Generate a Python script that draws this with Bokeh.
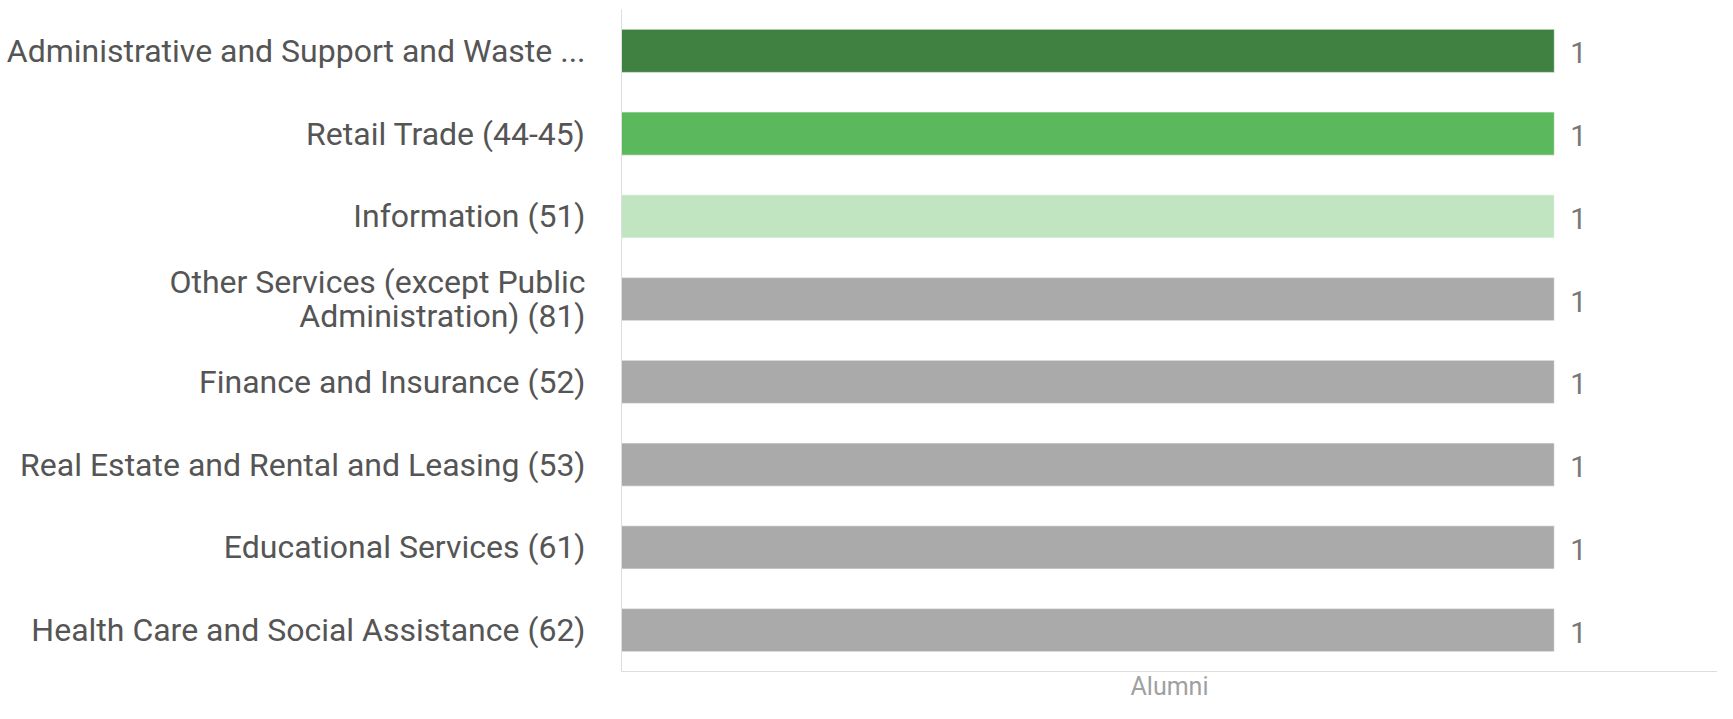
from bokeh.plotting import figure
from bokeh.models import ColumnDataSource, FactorRange, Range1d, FixedTicker
from bokeh.core.properties import value
from bokeh.embed import file_html
from bokeh.resources import INLINE

categories = [
    "Administrative and Support and Waste ...",
    "Retail Trade (44-45)",
    "Information (51)",
    "Other Services (except Public\nAdministration) (81)",
    "Finance and Insurance (52)",
    "Real Estate and Rental and Leasing (53)",
    "Educational Services (61)",
    "Health Care and Social Assistance (62)",
]
alumni = [1, 1, 1, 1, 1, 1, 1, 1]
colors = ["#408040", "#5cb85c", "#c1e4c1", "#aaaaaa", "#aaaaaa", "#aaaaaa", "#aaaaaa", "#aaaaaa"]
x_label = "Alumni"

src = ColumnDataSource(dict(cat=categories, val=alumni, color=colors,
                            lab=[str(v) for v in alumni]))

p = figure(width=1717, height=703, output_backend="svg", toolbar_location=None,
           y_range=FactorRange(factors=list(reversed(categories))),
           x_range=Range1d(0, 1.175),
           min_border_left=621, min_border_right=0, min_border_top=9, min_border_bottom=31)

p.hbar(y="cat", right="val", left=0, height=0.52, color="color", line_color="white",
       line_alpha=0.5, line_width=1, source=src)

p.text(x="val", y="cat", text="lab", source=src, x_offset=16, y_offset=2,
       text_baseline="middle", text_align="left", text_color="#777777",
       text_font=value("Roboto"), text_font_size="29px")

p.outline_line_color = None
p.xgrid.visible = False
p.ygrid.visible = False

ya = p.yaxis[0]
ya.axis_line_color = "#dddddd"
ya.major_tick_line_color = None
ya.minor_tick_line_color = None
ya.major_tick_out = 0
ya.major_label_standoff = 36
ya.major_label_text_font = "Roboto"
ya.major_label_text_font_size = "32px"
ya.major_label_text_color = "#555555"
ya.major_label_text_line_height = 0.9

xa = p.xaxis[0]
xa.ticker = FixedTicker(ticks=[])
xa.axis_line_color = "#dddddd"
xa.major_tick_line_color = None
xa.minor_tick_line_color = None
xa.major_tick_out = 0
xa.major_tick_in = 0
xa.major_label_text_font_size = "0px"
xa.major_label_standoff = 0
xa.axis_label = x_label
xa.axis_label_text_font = "Roboto"
xa.axis_label_text_font_style = "normal"
xa.axis_label_text_font_size = "25px"
xa.axis_label_text_color = "#a0a0a0"
xa.axis_label_standoff = 0

open("out.html", "w").write(file_html(p, INLINE))
